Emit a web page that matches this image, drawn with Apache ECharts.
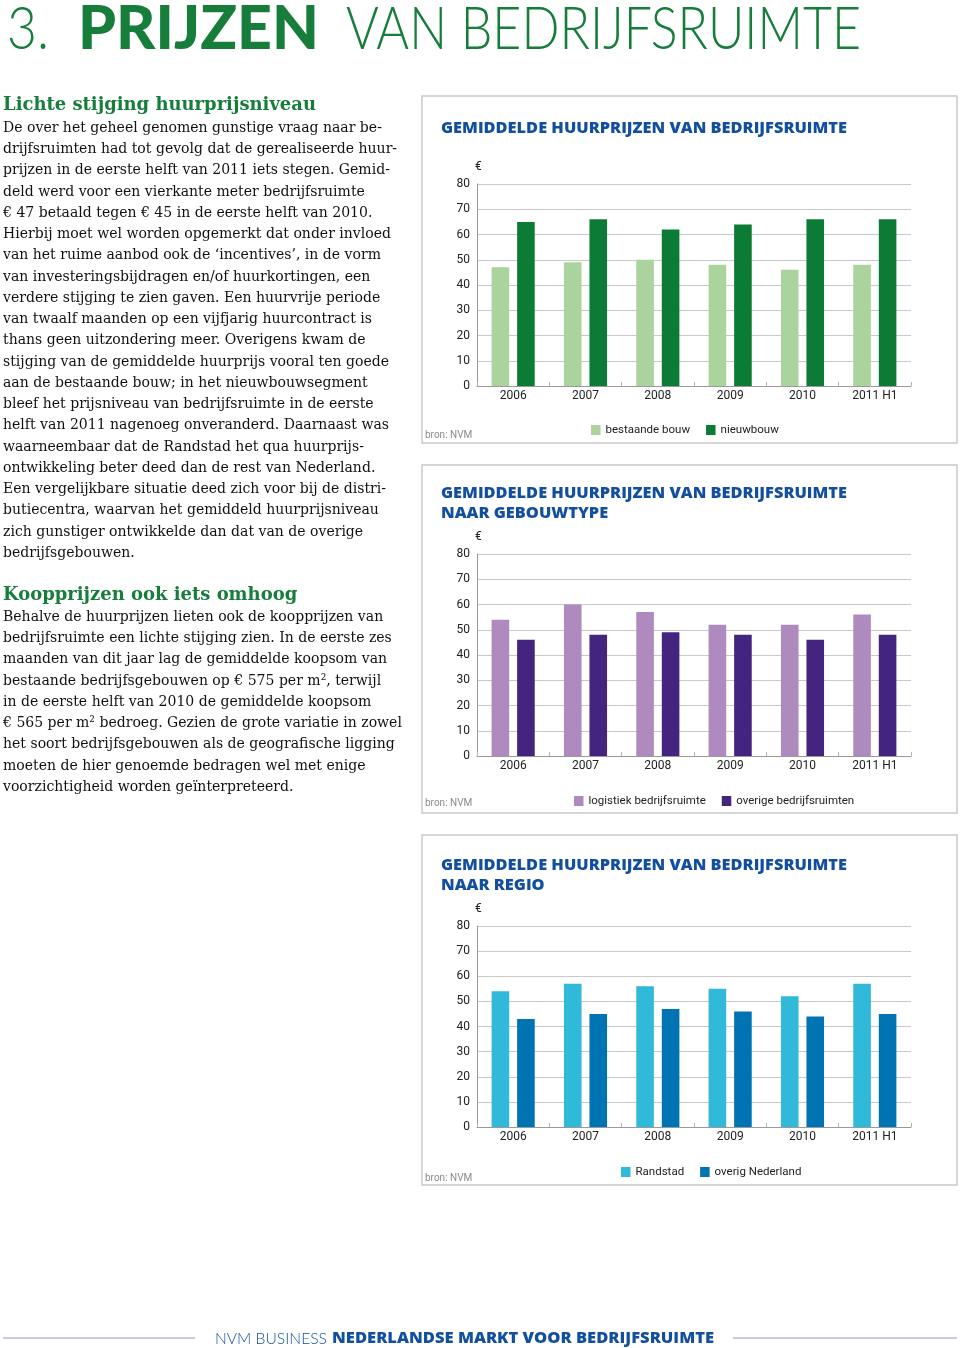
<!DOCTYPE html>
<html><head><meta charset="utf-8">
<script src="https://cdn.jsdelivr.net/npm/echarts@6/dist/echarts.min.js"></script>
<style>html,body{margin:0;padding:0;background:#fff}#c{width:960px;height:1348px}</style>
</head><body><div id="c"></div>
<script>
// ---------- DATA ----------
const categories = ['2006', '2007', '2008', '2009', '2010', '2011 H1'];
const bestaandeBouw = [47, 49, 50, 48, 46, 48];
const nieuwbouw = [65, 66, 62, 64, 66, 66];
const logistiekBedrijfsruimte = [54, 60, 57, 52, 52, 56];
const overigeBedrijfsruimten = [46, 48, 49, 48, 46, 48];
const randstad = [54, 57, 56, 55, 52, 57];
const overigNederland = [43, 45, 47, 46, 44, 45];
const yMin = 0, yMax = 80, yInterval = 10;

const chartTitles = [
  ['GEMIDDELDE HUURPRIJZEN VAN BEDRIJFSRUIMTE'],
  ['GEMIDDELDE HUURPRIJZEN VAN BEDRIJFSRUIMTE', 'NAAR GEBOUWTYPE'],
  ['GEMIDDELDE HUURPRIJZEN VAN BEDRIJFSRUIMTE', 'NAAR REGIO']
];
const seriesNames = [
  ['bestaande bouw', 'nieuwbouw'],
  ['logistiek bedrijfsruimte', 'overige bedrijfsruimten'],
  ['Randstad', 'overig Nederland']
];
const seriesValues = [
  [bestaandeBouw, nieuwbouw],
  [logistiekBedrijfsruimte, overigeBedrijfsruimten],
  [randstad, overigNederland]
];
const sourceLabel = 'bron: NVM';
const unitLabel = '€';

const heading1 = 'Lichte stijging huurprijsniveau';
const paragraph1 = [
  'De over het geheel genomen gunstige vraag naar be-',
  'drijfsruimten had tot gevolg dat de gerealiseerde huur-',
  'prijzen in de eerste helft van 2011 iets stegen. Gemid-',
  'deld werd voor een vierkante meter bedrijfsruimte',
  '€ 47 betaald tegen € 45 in de eerste helft van 2010.',
  'Hierbij moet wel worden opgemerkt dat onder invloed',
  'van het ruime aanbod ook de ‘incentives’, in de vorm',
  'van investeringsbijdragen en/of huurkortingen, een',
  'verdere stijging te zien gaven. Een huurvrije periode',
  'van twaalf maanden op een vijfjarig huurcontract is',
  'thans geen uitzondering meer. Overigens kwam de',
  'stijging van de gemiddelde huurprijs vooral ten goede',
  'aan de bestaande bouw; in het nieuwbouwsegment',
  'bleef het prijsniveau van bedrijfsruimte in de eerste',
  'helft van 2011 nagenoeg onveranderd. Daarnaast was',
  'waarneembaar dat de Randstad het qua huurprijs-',
  'ontwikkeling beter deed dan de rest van Nederland.',
  'Een vergelijkbare situatie deed zich voor bij de distri-',
  'butiecentra, waarvan het gemiddeld huurprijsniveau',
  'zich gunstiger ontwikkelde dan dat van de overige',
  'bedrijfsgebouwen.'
];
const heading2 = 'Koopprijzen ook iets omhoog';
const paragraph2 = [
  'Behalve de huurprijzen lieten ook de koopprijzen van',
  'bedrijfsruimte een lichte stijging zien. In de eerste zes',
  'maanden van dit jaar lag de gemiddelde koopsom van',
  'bestaande bedrijfsgebouwen op € 575 per m², terwijl',
  'in de eerste helft van 2010 de gemiddelde koopsom',
  '€ 565 per m² bedroeg. Gezien de grote variatie in zowel',
  'het soort bedrijfsgebouwen als de geografische ligging',
  'moeten de hier genoemde bedragen wel met enige',
  'voorzichtigheid worden geïnterpreteerd.'
];
const pageTitle = ['3.', 'PRIJZEN', 'VAN BEDRIJFSRUIMTE'];
const footer = ['NVM BUSINESS', 'NEDERLANDSE MARKT VOOR BEDRIJFSRUIMTE'];

// ---------- STYLE / LAYOUT ----------
const colors = [['#abd39d', '#0b7b35'], ['#ae8abf', '#43257f'], ['#31b9d9', '#0073b3']];
const green = '#167d3a', blue = '#124f9e';
const serif = '"DejaVu Serif", serif';
const narrow = 'Roboto, sans-serif';
const geo = 'Lato, "Open Sans", sans-serif';
const titleFont = '"Open Sans", sans-serif';

const grids = [
  { left: 477, top: 184, width: 434, height: 202 },
  { left: 477, top: 554, width: 434, height: 202 },
  { left: 477, top: 926, width: 434, height: 201 }
];
const boxes = [[422, 96, 535, 347], [422, 465, 535, 348], [422, 835, 535, 350]];
const titleY = [[129], [494, 514], [866, 886]];
const unitY = [167, 537, 909];
const sourceY = [435, 803, 1178];
const legendCY = [430, 801, 1172];
const legendCX = [685, 714, 711];
const legendFont = 11.5, legendGap = 16, legendIconW = 9.5;

const mctx = document.createElement('canvas').getContext('2d');
function tw(t, size, family, weight) { mctx.font = `${weight} ${size}px ${family}`; return mctx.measureText(t).width; }
function txt(t, x, y, size, family, weight, color, sx) {
  return { type: 'text', x: x, y: y, scaleX: sx || 1, silent: true,
    style: { text: t, x: 0, y: 0, fontSize: size, fontFamily: family, fontWeight: weight, fill: color, verticalAlign: 'middle', align: 'left' } };
}
function fit(t, x, y, w, size, family, weight, color) { return txt(t, x, y, size, family, weight, color, w / tw(t, size, family, weight)); }

const G = [];
// header
G.push(fit(pageTitle[0], 7, 30, 42, 60, geo, 300, green));
G.push(fit(pageTitle[1], 78, 30, 241, 60, geo, 900, green));
G.push(fit(pageTitle[2], 346, 30, 515, 60, geo, 300, green));

// left text
const bodySize = 15;
const bodyScale = 388 / tw(paragraph1[5], bodySize, serif, 'normal');
const headSize = 19;
const headScale = 313 / tw(heading1, headSize, serif, 'bold');
G.push(txt(heading1, 3, 105, headSize, serif, 'bold', green, headScale));
paragraph1.forEach((l, i) => G.push(txt(l, 3, 128 + i * 21.25, bodySize, serif, 'normal', '#111', bodyScale)));
G.push(txt(heading2, 3, 595, headSize, serif, 'bold', green, headScale));
paragraph2.forEach((l, i) => G.push(txt(l, 3, 617 + i * 21.25, bodySize, serif, 'normal', '#111', bodyScale)));

// chart boxes and annotations
const tScale = 406 / tw(chartTitles[0][0], 15, titleFont, 800);
boxes.forEach((b, i) => {
  G.push({ type: 'rect', silent: true, shape: { x: b[0], y: b[1], width: b[2], height: b[3] }, style: { fill: 'none', stroke: '#c9c9c9', lineWidth: 1.5 } });
  chartTitles[i].forEach((t, j) => G.push(txt(t, 441, titleY[i][j], 15, titleFont, 800, blue, tScale)));
  G.push(txt(unitLabel, 475, unitY[i], 12, narrow, 'normal', '#222'));
  G.push(txt(sourceLabel, 425, sourceY[i], 10, narrow, 'normal', '#8a8a8a'));
});

// footer
G.push({ type: 'line', silent: true, shape: { x1: 3, y1: 1338, x2: 195, y2: 1338 }, style: { stroke: '#8f9ab8', lineWidth: 1 } });
G.push({ type: 'line', silent: true, shape: { x1: 733, y1: 1338, x2: 957, y2: 1338 }, style: { stroke: '#8f9ab8', lineWidth: 1 } });
G.push(fit(footer[0], 215, 1339, 112, 15, geo, 300, blue));
G.push(fit(footer[1], 332, 1339, 382, 15, titleFont, 800, blue));

const legends = [], series = [];
seriesNames.forEach((names, i) => {
  const w = names.reduce((s, n) => s + legendIconW + 5 + tw(n, legendFont, narrow, 'normal'), 0) + legendGap;
  legends.push({ data: names, left: Math.round(legendCX[i] - w / 2), top: legendCY[i] - 7, padding: 0, icon: 'rect',
    itemWidth: legendIconW, itemHeight: 10, itemGap: legendGap, selectedMode: false,
    textStyle: { fontFamily: narrow, fontSize: legendFont, color: '#222', lineHeight: 14 } });
  names.forEach((n, j) => {
    series.push({ name: n, type: 'bar', xAxisIndex: i, yAxisIndex: i, data: seriesValues[i][j], barWidth: 17.6, barGap: '45%',
      itemStyle: { color: colors[i][j] }, silent: true });
  });
});

const chart = echarts.init(document.getElementById('c'), null, { renderer: 'canvas' });
chart.setOption({
  animation: false,
  backgroundColor: '#ffffff',
  grid: grids,
  xAxis: grids.map((g, i) => ({
    gridIndex: i, type: 'category', data: categories,
    axisLine: { lineStyle: { color: '#9a9a9a', width: 1 } },
    axisTick: { show: true, inside: true, length: 4, lineStyle: { color: '#b4b4b4' } },
    axisLabel: { color: '#222', fontFamily: narrow, fontSize: 12, margin: 4, interval: 0 }
  })),
  yAxis: grids.map((g, i) => ({
    gridIndex: i, type: 'value', min: yMin, max: yMax, interval: yInterval,
    axisLine: { show: true, lineStyle: { color: '#9a9a9a', width: 1 } },
    axisTick: { show: false },
    axisLabel: { color: '#222', fontFamily: narrow, fontSize: 12, margin: 7 },
    splitLine: { lineStyle: { color: '#c9c9c9', width: 1 } }
  })),
  legend: legends,
  series: series,
  graphic: { elements: G }
});
</script></body></html>
